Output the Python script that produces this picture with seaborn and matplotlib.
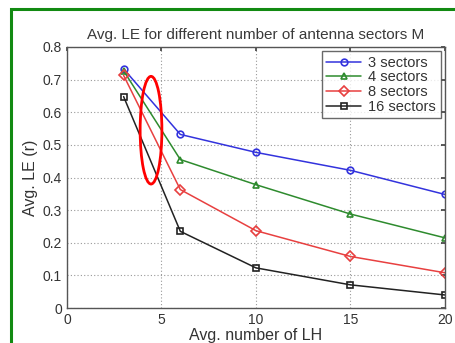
import matplotlib
matplotlib.use("Agg")
import matplotlib.pyplot as plt
import seaborn as sns
import pandas as pd
from matplotlib.patches import Ellipse, Rectangle

num_lh = [3, 6, 10, 15, 20]
sectors_3 = [0.733, 0.532, 0.477, 0.422, 0.348]
sectors_4 = [0.727, 0.455, 0.378, 0.288, 0.215]
sectors_8 = [0.713, 0.363, 0.237, 0.158, 0.108]
sectors_16 = [0.648, 0.235, 0.123, 0.071, 0.040]
series_names = ["3 sectors", "4 sectors", "8 sectors", "16 sectors"]
x_ticks = [0, 5, 10, 15, 20]
y_ticks = [0, 0.1, 0.2, 0.3, 0.4, 0.5, 0.6, 0.7, 0.8]

rows = []
for name, vals in zip(series_names, [sectors_3, sectors_4, sectors_8, sectors_16]):
    for x, y in zip(num_lh, vals):
        rows.append({"LH": x, "LE": y, "series": name})
df = pd.DataFrame(rows)

sns.set_theme(style="white")
plt.rcParams['font.family'] = ['Liberation Sans', 'DejaVu Sans']

fig = plt.figure(figsize=(4.55, 3.43), dpi=100)
ax = fig.add_axes([0.147, 0.102, 0.831, 0.761])

palette = {"3 sectors": "#3333dd", "4 sectors": "#2e8b2e",
           "8 sectors": "#e84040", "16 sectors": "#222222"}
markers = {"3 sectors": "o", "4 sectors": "^", "8 sectors": "D", "16 sectors": "s"}
sns.lineplot(data=df, x="LH", y="LE", hue="series", style="series",
             hue_order=series_names, style_order=series_names,
             palette=palette, markers=markers, dashes=False, ax=ax,
             linewidth=1.1, markersize=4.8, markeredgewidth=1.2)
for line in ax.lines:
    line.set_markerfacecolor("none")
    line.set_markeredgecolor(line.get_color())

ax.set_xlim(0, 20)
ax.set_ylim(0, 0.8)
ax.set_xticks(x_ticks)
ax.set_xticklabels([str(t) for t in x_ticks])
ax.set_yticks(y_ticks)
ax.set_yticklabels(["0"] + [f"{t:.1f}" for t in y_ticks[1:]])
ax.grid(True, linestyle=(0, (1, 2)), color="#999999", linewidth=0.8)
ax.tick_params(direction="in", top=True, right=True, length=3,
               labelsize=10, colors="#444444", labelcolor="#333333")
for sp in ax.spines.values():
    sp.set_color("#555555")
    sp.set_linewidth(1.0)

ax.set_title("Avg. LE for different number of antenna sectors M",
             fontsize=11, color="#3a3a3a", pad=6)
ax.set_xlabel("Avg. number of LH", fontsize=11.5, color="#333333", labelpad=1)
ax.set_ylabel("Avg. LE (r)", fontsize=11.5, color="#333333", labelpad=3)

leg = ax.legend(loc="upper right", fontsize=10.5, frameon=True, fancybox=False,
                borderpad=0.3, labelspacing=0.05, handlelength=2.4,
                handletextpad=0.5, borderaxespad=0.3)
leg.get_frame().set_edgecolor("#444444")
leg.get_frame().set_linewidth(1.0)
for t in leg.get_texts():
    t.set_color("#333333")
for h in leg.legend_handles:
    h.set_markerfacecolor("none")
    h.set_markeredgecolor(h.get_color())

ell = Ellipse((4.45, 0.545), width=1.15, height=0.33, fill=False,
              edgecolor="red", linewidth=2, zorder=5)
ax.add_patch(ell)

frame = Rectangle((11 / 455, -0.1), 1.2, 1 - 9 / 343 + 0.1, transform=fig.transFigure,
                  fill=False, edgecolor="#128a12", linewidth=2.2, clip_on=False)
fig.patches.append(frame)

fig.savefig("out.png", dpi=100, facecolor="white")
